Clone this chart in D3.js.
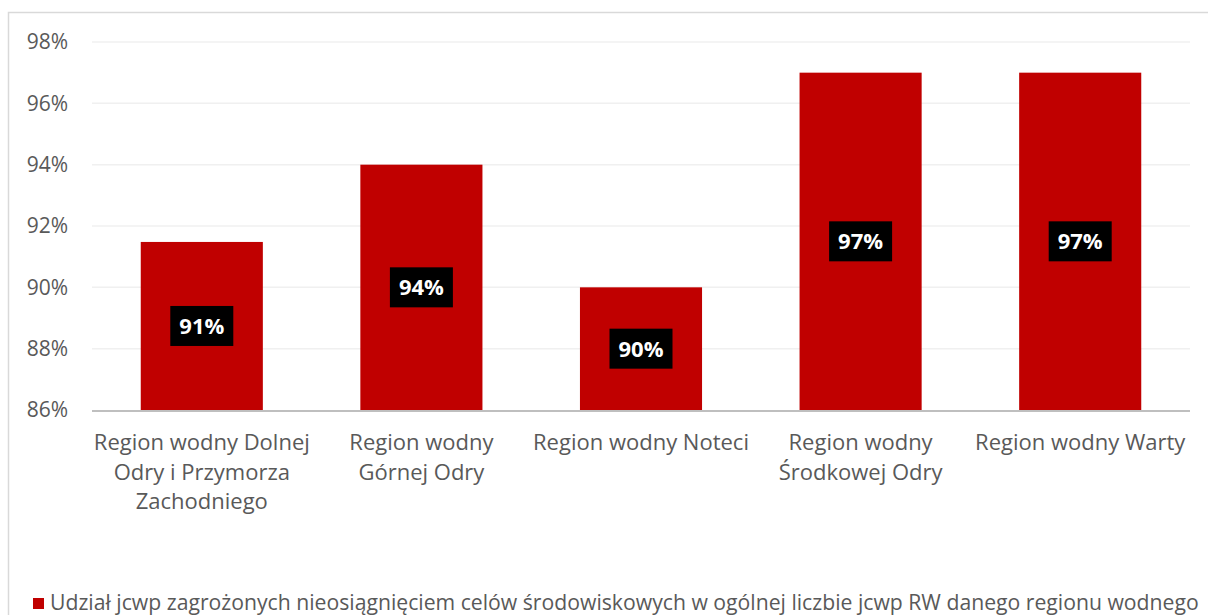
<!DOCTYPE html>
<html>
<head>
<meta charset="utf-8">
<script src="https://cdn.jsdelivr.net/npm/d3@7"></script>
<style>
  html, body { margin: 0; padding: 0; background: #fff; }
  svg { display: block; }
  text { font-family: "Open Sans", sans-serif; }
</style>
</head>
<body>
<svg id="chart" width="1208" height="615"></svg>
<script>
// ---- data ----
const categories = [
  "Region wodny Dolnej\nOdry i Przymorza\nZachodniego",
  "Region wodny\nGórnej Odry",
  "Region wodny Noteci",
  "Region wodny\nŚrodkowej Odry",
  "Region wodny Warty"
];
const values = [0.9148, 0.94, 0.90, 0.97, 0.97];
const valueLabels = ["91%", "94%", "90%", "97%", "97%"];
const yTicks = [0.86, 0.88, 0.90, 0.92, 0.94, 0.96, 0.98];
const seriesName = "Udział jcwp zagrożonych nieosiągnięciem celów środowiskowych w ogólnej liczbie jcwp RW danego regionu wodnego";

// ---- layout ----
const svg = d3.select("#chart");
const W = 1208, H = 615;
const plot = { left: 92, right: 1190, top: 42, bottom: 410 };

// outer frame
svg.append("rect")
  .attr("x", 8.5).attr("y", 12.5)
  .attr("width", W + 10).attr("height", H + 10)
  .attr("fill", "none").attr("stroke", "#d9d9d9").attr("stroke-width", 1.5);

const x = d3.scaleBand()
  .domain(categories)
  .range([plot.left, plot.right])
  .paddingInner(0.444).paddingOuter(0.222);

const y = d3.scaleLinear()
  .domain([0.86, 0.98])
  .range([plot.bottom, plot.top]);

// gridlines
svg.append("g")
  .selectAll("line")
  .data(yTicks.filter(t => t > 0.86))
  .join("line")
  .attr("x1", plot.left).attr("x2", plot.right)
  .attr("y1", d => y(d)).attr("y2", d => y(d))
  .attr("stroke", "#f0f0f0").attr("stroke-width", 1.5);

// y axis labels
const yAxis = d3.axisLeft(y)
  .tickValues(yTicks)
  .tickFormat(d => Math.round(d * 100) + "%")
  .tickSize(0).tickPadding(24);
const gy = svg.append("g").attr("transform", `translate(${plot.left},0)`).call(yAxis);
gy.select(".domain").remove();
gy.selectAll("text")
  .attr("fill", "#595959")
  .style("font-size", "21px")
  .style("font-family", "'Open Sans', sans-serif");

// bars
svg.append("g")
  .selectAll("rect")
  .data(values)
  .join("rect")
  .attr("x", (d, i) => x(categories[i]))
  .attr("width", x.bandwidth())
  .attr("y", d => y(d))
  .attr("height", d => y(0.86) - y(d))
  .attr("fill", "#c00000");

// x axis line
svg.append("line")
  .attr("x1", plot.left).attr("x2", plot.right)
  .attr("y1", plot.bottom + 1).attr("y2", plot.bottom + 1)
  .attr("stroke", "#bfbfbf").attr("stroke-width", 2);

// data labels
const lbl = svg.append("g")
  .selectAll("g")
  .data(values)
  .join("g")
  .attr("transform", (d, i) => {
    const cx = x(categories[i]) + x.bandwidth() / 2;
    const cy = (y(d) + y(0.86)) / 2;
    return `translate(${cx},${cy})`;
  });
lbl.append("rect")
  .attr("x", -31.5).attr("y", -20)
  .attr("width", 63).attr("height", 40)
  .attr("fill", "#000");
lbl.append("text")
  .attr("text-anchor", "middle")
  .attr("dy", "0.36em")
  .attr("fill", "#fff")
  .style("font-size", "22px")
  .style("font-weight", "bold")
  .text((d, i) => valueLabels[i]);

// x category labels
const xl = svg.append("g")
  .selectAll("text")
  .data(categories)
  .join("text")
  .attr("x", d => x(d) + x.bandwidth() / 2)
  .attr("y", 450)
  .attr("text-anchor", "middle")
  .attr("fill", "#595959")
  .style("font-size", "22px");
xl.each(function(d) {
  const t = d3.select(this);
  d.split("\n").forEach((line, k) => {
    t.append("tspan")
      .attr("x", t.attr("x"))
      .attr("dy", k === 0 ? 0 : 29.5)
      .text(line);
  });
});

// legend
const lg = svg.append("g");
lg.append("rect")
  .attr("x", 33).attr("y", 598)
  .attr("width", 11).attr("height", 11)
  .attr("fill", "#c00000");
lg.append("text")
  .attr("x", 50).attr("y", 610)
  .attr("fill", "#595959")
  .style("font-size", "21.2px")
  .text(seriesName);
</script>
</body>
</html>
